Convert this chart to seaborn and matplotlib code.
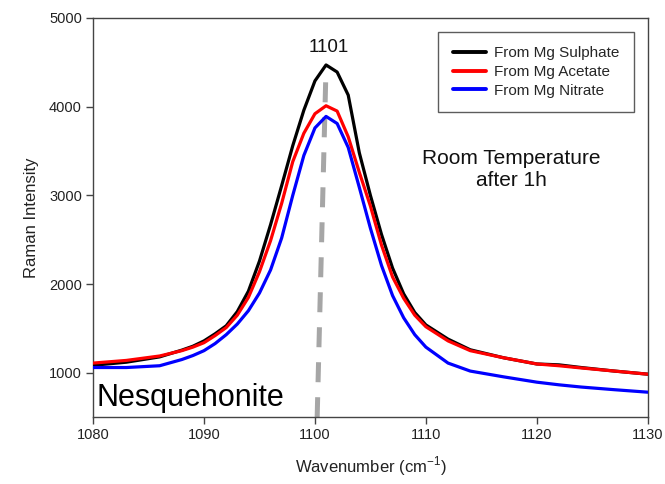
import matplotlib
matplotlib.use("Agg")
import matplotlib.pyplot as plt
import seaborn as sns
import pandas as pd

wavenumber = [1080, 1083, 1086, 1088, 1089, 1090, 1091, 1092, 1093, 1094, 1095, 1096,
              1097, 1098, 1099, 1100, 1101, 1102, 1103, 1104, 1105, 1106, 1107, 1108,
              1109, 1110, 1112, 1114, 1117, 1120, 1122, 1124, 1127, 1130]
sulphate = [1085, 1120, 1180, 1256, 1300, 1360, 1440, 1530, 1690, 1920, 2260, 2670,
            3110, 3560, 3960, 4290, 4470, 4390, 4130, 3480, 3000, 2560, 2180, 1890,
            1680, 1540, 1380, 1260, 1170, 1100, 1090, 1060, 1020, 985]
acetate = [1110, 1140, 1190, 1250, 1290, 1340, 1420, 1510, 1650, 1850, 2140, 2490,
           2910, 3380, 3700, 3920, 4010, 3950, 3660, 3260, 2880, 2440, 2080, 1840,
           1650, 1520, 1360, 1250, 1170, 1100, 1080, 1055, 1020, 985]
nitrate = [1060, 1060, 1080, 1150, 1195, 1250, 1330, 1430, 1550, 1700, 1900, 2160,
           2520, 3000, 3450, 3760, 3890, 3810, 3540, 3090, 2630, 2210, 1870, 1620,
           1430, 1290, 1110, 1020, 955, 895, 865, 840, 810, 782]
series_names = ["From Mg Sulphate", "From Mg Acetate", "From Mg Nitrate"]
series_colors = ["#000000", "#ff0000", "#0000ff"]
peak_label = "1101"
peak_line_x = [1100.2, 1101.0]
peak_line_y = [500, 4450]

sns.set_style("white")
plt.rcParams["font.family"] = ["Liberation Sans", "DejaVu Sans"]
plt.rcParams["mathtext.fontset"] = "custom"
plt.rcParams["mathtext.rm"] = "Liberation Sans"

rows = []
for name, vals in zip(series_names, [sulphate, acetate, nitrate]):
    for x, y in zip(wavenumber, vals):
        rows.append({"Wavenumber": x, "Intensity": y, "Series": name})
df = pd.DataFrame(rows)

fig = plt.figure(figsize=(6.65, 4.84), dpi=100)
ax = fig.add_axes([0.140, 0.138, 0.834, 0.825])

# dashed guide line at the peak
ax.plot(peak_line_x, peak_line_y, color="#a6a6a6", lw=3.6,
        dashes=(4, 3), zorder=1, solid_capstyle="butt")

sns.lineplot(data=df, x="Wavenumber", y="Intensity", hue="Series",
             hue_order=series_names, palette=series_colors, lw=2.3,
             ax=ax, zorder=3)

ax.set_xlim(1080, 1130)
ax.set_ylim(500, 5000)
ax.set_xticks(range(1080, 1131, 10))
ax.set_yticks(range(1000, 5001, 1000))
ax.tick_params(axis="both", direction="out", length=5, width=1, color="#444444",
               labelsize=10.5, labelcolor="#222222", pad=3, left=True, bottom=True)
for sp in ax.spines.values():
    sp.set_color("#444444")
    sp.set_linewidth(1.0)

ax.set_xlabel("Wavenumber (cm$^{-1}$)", fontsize=12, labelpad=9, color="#222222")
ax.set_ylabel("Raman Intensity", fontsize=12, labelpad=7, color="#222222")

ax.text(1101.2, 4670, peak_label, ha="center", va="center", fontsize=13.5,
        color="#111111")
ax.text(1117.7, 3290, "Room Temperature\nafter 1h", ha="center", va="center",
        fontsize=15, linespacing=1.2, color="#111111")
ax.text(1080.3, 715, "Nesquehonite", ha="left", va="center", fontsize=22,
        color="#000000")

leg = ax.legend(loc="upper right", bbox_to_anchor=(0.975, 0.965), borderaxespad=0,
                frameon=True, fancybox=False, fontsize=11, handlelength=2.2,
                labelspacing=0.3, borderpad=0.95, handletextpad=0.5)
leg.get_frame().set_edgecolor("#333333")
leg.get_frame().set_linewidth(1.0)
for line in leg.get_lines():
    line.set_linewidth(2.8)

fig.savefig("out.png", dpi=100, facecolor="white")
